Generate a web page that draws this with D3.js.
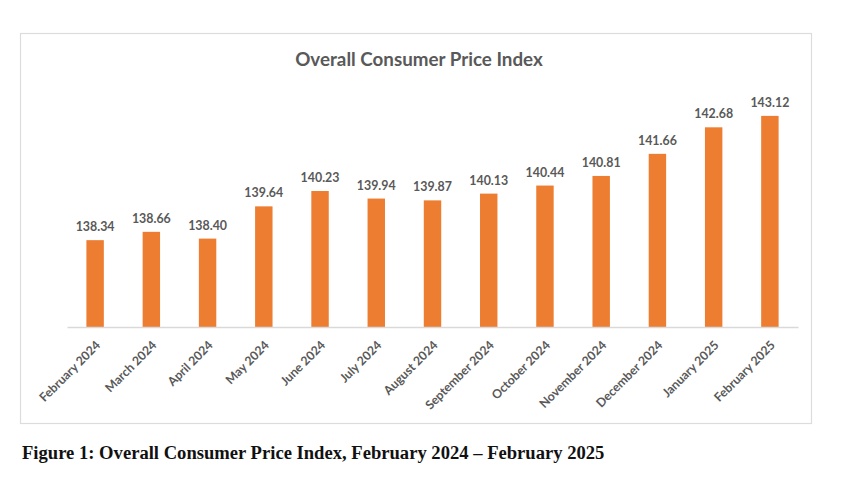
<!DOCTYPE html>
<html>
<head>
<meta charset="utf-8">
<script src="https://cdn.jsdelivr.net/npm/d3@7"></script>
<style>
  html, body { margin: 0; padding: 0; background: #ffffff; }
  svg { display: block; }
</style>
</head>
<body>
<svg id="chart" width="850" height="500"></svg>
<script>
const months = ["February 2024","March 2024","April 2024","May 2024","June 2024","July 2024","August 2024","September 2024","October 2024","November 2024","December 2024","January 2025","February 2025"];
const cpiValues = [138.34,138.66,138.40,139.64,140.23,139.94,139.87,140.13,140.44,140.81,141.66,142.68,143.12];
const yDomain = [135, 144];
const chartTitle = "Overall Consumer Price Index";
const captionText = "Figure 1: Overall Consumer Price Index, February 2024 \u2013 February 2025";

const svg = d3.select("#chart");

// chart frame
svg.append("rect")
  .attr("x", 20.5).attr("y", 33.5)
  .attr("width", 791).attr("height", 390)
  .attr("fill", "#ffffff")
  .attr("stroke", "#dcdcdc")
  .attr("stroke-width", 1.2);

// title
svg.append("text")
  .attr("x", 419).attr("y", 66)
  .attr("text-anchor", "middle")
  .attr("font-family", "Lato, 'Open Sans', sans-serif")
  .attr("font-weight", "bold")
  .attr("font-size", 18.8)
  .attr("fill", "#595959")
  .text(chartTitle);

const x = d3.scaleBand()
  .domain(months)
  .range([67, 798])
  .paddingInner(0.69)
  .paddingOuter(0.345);

const y = d3.scaleLinear()
  .domain(yDomain)
  .range([327, 93]);

// bars
svg.append("g").selectAll("rect")
  .data(cpiValues)
  .join("rect")
  .attr("x", (d, i) => x(months[i]))
  .attr("y", d => y(d))
  .attr("width", x.bandwidth())
  .attr("height", d => y(yDomain[0]) - y(d))
  .attr("fill", "#ED7D31");

// value labels
svg.append("g").selectAll("text")
  .data(cpiValues)
  .join("text")
  .attr("x", (d, i) => x(months[i]) + x.bandwidth() / 2)
  .attr("y", d => y(d) - 9)
  .attr("text-anchor", "middle")
  .attr("font-family", "Lato, 'Open Sans', sans-serif")
  .attr("font-weight", "bold")
  .attr("font-size", 12.4)
  .attr("fill", "#595959")
  .text(d => d.toFixed(2));

// x axis
const xAxis = svg.append("g")
  .attr("transform", `translate(0,${y(yDomain[0])})`)
  .call(d3.axisBottom(x).tickSize(0).tickSizeOuter(0));
xAxis.select(".domain").attr("stroke", "#d9d9d9").attr("stroke-width", 1.3);
xAxis.selectAll(".tick text")
  .attr("font-family", "Lato, 'Open Sans', sans-serif")
  .attr("font-weight", "bold")
  .attr("font-size", 12.3)
  .attr("fill", "#595959")
  .attr("text-anchor", "end")
  .attr("x", 0).attr("y", 0).attr("dy", 0)
  .attr("transform", "translate(6,19) rotate(-45)");

// caption
svg.append("text")
  .attr("x", 22).attr("y", 459)
  .attr("font-family", "'Liberation Serif', 'Times New Roman', serif")
  .attr("font-weight", "bold")
  .attr("font-size", 18.6)
  .attr("fill", "#111111")
  .text(captionText);
</script>
</body>
</html>
